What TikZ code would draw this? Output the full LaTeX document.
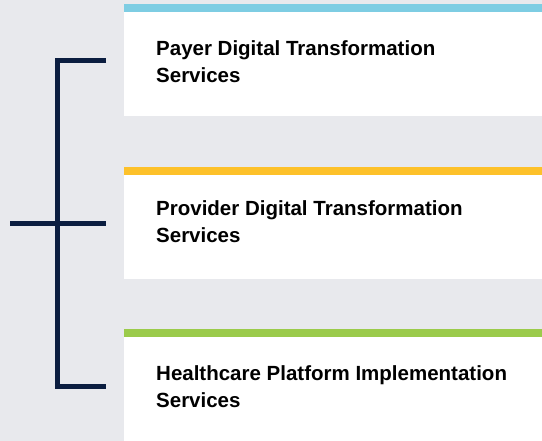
\documentclass[tikz,border=0pt]{standalone}
\usepackage{fontspec}
\setmainfont{Liberation Sans}
\usetikzlibrary{positioning}
\definecolor{pagegray}{HTML}{E8E9ED}
\definecolor{barblue}{HTML}{7ECDE3}
\definecolor{baryellow}{HTML}{FDC12A}
\definecolor{bargreen}{HTML}{9BCB4B}
\definecolor{bracketnavy}{HTML}{0B1D40}
\tikzset{
  card/.style={fill=white, inner sep=0pt, anchor=north west, minimum width=418pt, minimum height=112pt},
  cardbar/.style={inner sep=0pt, anchor=north west, minimum width=418pt, minimum height=8pt},
  cardtext/.style={inner sep=0pt, anchor=base west, align=left, font=\bfseries\fontsize{20.5}{27}\selectfont},
  bracketline/.style={draw=bracketnavy, line width=5pt},
}
\begin{document}
\begin{tikzpicture}[x=1pt,y=-1pt]
\useasboundingbox[fill=pagegray] (0,0) rectangle (542,441);
% cards
\node[card] (payer) at (124,4) {};
\node[cardbar,fill=barblue] (payerbar) at (payer.north west) {};
\node[card] (provider) at (124,167) {};
\node[cardbar,fill=baryellow] (providerbar) at (provider.north west) {};
\node[card] (platform) at (124,329) {};
\node[cardbar,fill=bargreen] (platformbar) at (platform.north west) {};
% text (base = baseline of the last line)
\node[cardtext] (payertext) at (156,83) {Payer Digital Transformation\\Services};
\node[cardtext] (providertext) at (156,243) {Provider Digital Transformation\\Services};
\node[cardtext] (platformtext) at (156,408) {Healthcare Platform Implementation\\Services};
% bracket
\coordinate (toptick) at (106,61);
\coordinate (midtickleft) at (10,223.5);
\coordinate (midtickright) at (106,223.5);
\coordinate (bottick) at (106,386.5);
\draw[bracketline] (toptick) -- (57.5,61) -- (57.5,386.5) -- (bottick);
\draw[bracketline] (midtickleft) -- (midtickright);
\end{tikzpicture}
\end{document}
